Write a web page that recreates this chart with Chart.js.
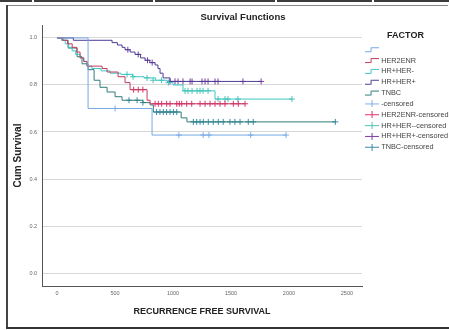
<!DOCTYPE html>
<html>
<head>
<meta charset="utf-8">
<script src="https://cdn.jsdelivr.net/npm/chart.js@4.4.1/dist/chart.umd.min.js"></script>
<style>
  html, body { margin: 0; padding: 0; background: #fff; overflow: hidden; }
  #wrap { position: relative; width: 449px; height: 330px; }
  #c { position: absolute; left: 0; top: 0; }
  .ln { position: absolute; }
  #title { position: absolute; left: 163px; top: 11px; width: 160px; text-align: center;
           font: bold 9.5px 'Liberation Sans', Arial, sans-serif; line-height: 12px; color: #222; }
</style>
</head>
<body>
<div id="wrap">
  <canvas id="c" width="449" height="330"></canvas>
  <div id="title">Survival Functions</div>
  <div class="ln" style="left:0;top:0;width:449px;height:2px;background:#3c3c3c"></div>
  <div class="ln" style="left:32px;top:0;width:2px;height:2px;background:#fff"></div>
  <div class="ln" style="left:153px;top:0;width:2px;height:2px;background:#fff"></div>
  <div class="ln" style="left:275px;top:0;width:2px;height:2px;background:#fff"></div>
  <div class="ln" style="left:372px;top:0;width:2px;height:2px;background:#fff"></div>
  <div class="ln" style="left:7px;top:5px;width:441px;height:1px;background:#888"></div>
  <div class="ln" style="left:6px;top:5px;width:2px;height:324px;background:#444"></div>
  <div class="ln" style="left:6px;top:327px;width:443px;height:2px;background:#333"></div>
</div>
<script>
document.addEventListener('DOMContentLoaded', function() {
    // survival curves (time, cumulative survival)
    const otherTime = [0, 267, 819, 1975];
    const otherSurv = [1, 0.70, 0.587, 0.587];
    const her2Time = [0, 50, 90, 130, 170, 198, 230, 258, 388, 431, 526, 586, 629, 776, 802, 1621];
    const her2Surv = [1, 0.99, 0.975, 0.96, 0.94, 0.915, 0.9, 0.88, 0.87, 0.855, 0.835, 0.81, 0.78, 0.735, 0.72, 0.72];
    const hrnTime = [0, 40, 70, 100, 130, 160, 198, 230, 258, 300, 380, 457, 550, 650, 750, 850, 950, 1000, 1086, 1362, 2026];
    const hrnSurv = [1, 0.99, 0.975, 0.96, 0.945, 0.93, 0.915, 0.9, 0.88, 0.87, 0.86, 0.85, 0.845, 0.835, 0.83, 0.82, 0.81, 0.80, 0.775, 0.74, 0.74];
    const hrpTime = [0, 140, 474, 520, 560, 586, 630, 672, 720, 759, 800, 845, 870, 888, 914, 974, 1760];
    const hrpSurv = [1, 0.99, 0.98, 0.97, 0.96, 0.95, 0.94, 0.93, 0.915, 0.905, 0.895, 0.885, 0.87, 0.85, 0.83, 0.815, 0.815];
    const tnbcTime = [0, 40, 95, 172, 215, 267, 319, 370, 431, 500, 560, 740, 802, 830, 1070, 1120, 2400];
    const tnbcSurv = [1, 0.99, 0.957, 0.92, 0.89, 0.865, 0.82, 0.79, 0.77, 0.75, 0.735, 0.725, 0.715, 0.685, 0.66, 0.643, 0.643];

    // censored observations
    const otherCensTime = [500, 1050, 1260, 1310, 1670, 1975];
    const otherCensSurv = [0.70, 0.587, 0.587, 0.587, 0.587, 0.587];
    const her2CensTime = [660, 700, 740, 845, 873, 902, 945, 974, 1032, 1054, 1075, 1118, 1161, 1233, 1276, 1319, 1362, 1405, 1448, 1520, 1563, 1621];
    const her2CensSurv = [0.78, 0.78, 0.78, 0.72, 0.72, 0.72, 0.72, 0.72, 0.72, 0.72, 0.72, 0.72, 0.72, 0.72, 0.72, 0.72, 0.72, 0.72, 0.72, 0.72, 0.72, 0.72];
    const hrnCensTime = [603, 655, 776, 828, 900, 960, 1103, 1129, 1164, 1207, 1233, 1259, 1302, 1388, 1448, 1474, 1560, 2026];
    const hrnCensSurv = [0.845, 0.835, 0.83, 0.82, 0.82, 0.81, 0.775, 0.775, 0.775, 0.775, 0.775, 0.775, 0.775, 0.74, 0.74, 0.74, 0.74, 0.74];
    const hrpCensTime = [610, 700, 780, 820, 974, 1017, 1043, 1086, 1147, 1164, 1250, 1276, 1302, 1362, 1388, 1603, 1760];
    const hrpCensSurv = [0.95, 0.93, 0.905, 0.895, 0.815, 0.815, 0.815, 0.815, 0.815, 0.815, 0.815, 0.815, 0.815, 0.815, 0.815, 0.815, 0.815];
    const tnbcCensTime = [620, 690, 740, 858, 887, 916, 945, 974, 1003, 1032, 1175, 1204, 1233, 1261, 1304, 1347, 1390, 1433, 1491, 1534, 1578, 1649, 1692, 2400];
    const tnbcCensSurv = [0.735, 0.735, 0.725, 0.685, 0.685, 0.685, 0.685, 0.685, 0.685, 0.685, 0.643, 0.643, 0.643, 0.643, 0.643, 0.643, 0.643, 0.643, 0.643, 0.643, 0.643, 0.643, 0.643, 0.643];

    const xTicks = [0, 500, 1000, 1500, 2000, 2500];
    const yTicks = [0, 0.2, 0.4, 0.6, 0.8, 1.0];

    Chart.defaults.font.family = "'Liberation Sans', Arial, sans-serif";

    function makeStep(color) {
        const c = document.createElement('canvas');
        c.width = 14; c.height = 7;
        const g = c.getContext('2d');
        g.strokeStyle = color; g.lineWidth = 1;
        g.beginPath();
        g.moveTo(0, 5.5); g.lineTo(6.5, 5.5); g.lineTo(6.5, 1.5); g.lineTo(14, 1.5);
        g.stroke();
        return c;
    }
    function makeCross(color) {
        const c = document.createElement('canvas');
        c.width = 14; c.height = 7;
        const g = c.getContext('2d');
        g.strokeStyle = color; g.lineWidth = 1;
        g.beginPath();
        g.moveTo(0, 3.5); g.lineTo(14, 3.5);
        g.moveTo(7.5, 0); g.lineTo(7.5, 7);
        g.stroke();
        return c;
    }

    function lineSet(label, xs, ys, color) {
        return {
            label: label,
            data: xs.map((x, i) => ({x: x, y: ys[i]})),
            borderColor: color,
            backgroundColor: color,
            borderWidth: 1,
            stepped: true,
            pointRadius: 0,
            pointHoverRadius: 0,
            fill: false
        };
    }
    function censSet(label, xs, ys, color) {
        return {
            label: label,
            data: xs.map((x, i) => ({x: x, y: ys[i]})),
            showLine: false,
            pointStyle: 'cross',
            pointRadius: 3,
            pointHoverRadius: 3,
            borderColor: color,
            backgroundColor: color,
            borderWidth: 1
        };
    }

    const datasets = [
        lineSet('', otherTime, otherSurv, '#74a9e6'),
        lineSet('HER2ENR', her2Time, her2Surv, '#c23b5e'),
        lineSet('HR+HER-', hrnTime, hrnSurv, '#3fc6c6'),
        lineSet('HR+HER+', hrpTime, hrpSurv, '#4b3d95'),
        lineSet('TNBC', tnbcTime, tnbcSurv, '#2f7d7a'),
        censSet('-censored', otherCensTime, otherCensSurv, '#7fb0e6'),
        censSet('HER2ENR-censored', her2CensTime, her2CensSurv, '#e0306e'),
        censSet('HR+HER--censored', hrnCensTime, hrnCensSurv, '#4fc4b4'),
        censSet('HR+HER+-censored', hrpCensTime, hrpCensSurv, '#7b3fa0'),
        censSet('TNBC-censored', tnbcCensTime, tnbcCensSurv, '#3a8aa8')
    ];
    const icons = datasets.map((d, i) => i < 5 ? makeStep(d.borderColor) : makeCross(d.borderColor));

    const config = {
        type: 'line',
        data: {datasets: datasets},
        options: {
            responsive: false,
            animation: false,
            layout: {padding: {left: 0.4, right: 0, top: 25, bottom: 8.6}},
            plugins: {
                title: {display: false},
                legend: {
                    position: 'right',
                    align: 'start',
                    fullSize: false,
                    maxWidth: 87,
                    title: {
                        display: true,
                        text: 'FACTOR',
                        color: '#222',
                        font: {size: 9, weight: 'bold'},
                        padding: {top: 5.8, bottom: 0.9}
                    },
                    labels: {
                        usePointStyle: true,
                        pointStyleWidth: 12,
                        boxHeight: 7.3,
                        padding: 3.54,
                        color: '#444',
                        font: {size: 7.3},
                        generateLabels: function(chart) {
                            const items = Chart.defaults.plugins.legend.labels.generateLabels(chart);
                            items.forEach((it, i) => { it.pointStyle = icons[i]; });
                            return items;
                        }
                    }
                },
                tooltip: {enabled: false}
            },
            scales: {
                x: {
                    type: 'linear',
                    min: -130,
                    max: 2630,
                    afterBuildTicks: function(axis) { axis.ticks = xTicks.map(v => ({value: v})); },
                    ticks: {
                        font: {size: 5.5}, color: '#666', padding: 3.7, maxRotation: 0, autoSkip: false,
                        callback: function(v) { return String(v); }
                    },
                    grid: {display: false, drawTicks: false},
                    border: {display: true, color: '#555', width: 1},
                    title: {
                        display: true,
                        text: 'RECURRENCE FREE SURVIVAL',
                        color: '#222',
                        font: {size: 9, weight: 'bold'},
                        padding: {top: 6.6, bottom: 4}
                    }
                },
                y: {
                    type: 'linear',
                    min: -0.055,
                    max: 1.055,
                    afterBuildTicks: function(axis) { axis.ticks = yTicks.map(v => ({value: v})); },
                    ticks: {
                        font: {size: 5.5}, color: '#666', padding: 5,
                        callback: function(v) { return v.toFixed(1); }
                    },
                    grid: {color: '#d8d8d8', lineWidth: 1, drawTicks: false},
                    border: {display: true, color: '#555', width: 1},
                    title: {
                        display: true,
                        text: 'Cum Survival',
                        color: '#222',
                        font: {size: 10, weight: 'bold'},
                        padding: {top: 12, bottom: 0}
                    }
                }
            }
        }
    };

    new Chart(document.getElementById('c').getContext('2d'), config);
});
</script>
</body>
</html>
